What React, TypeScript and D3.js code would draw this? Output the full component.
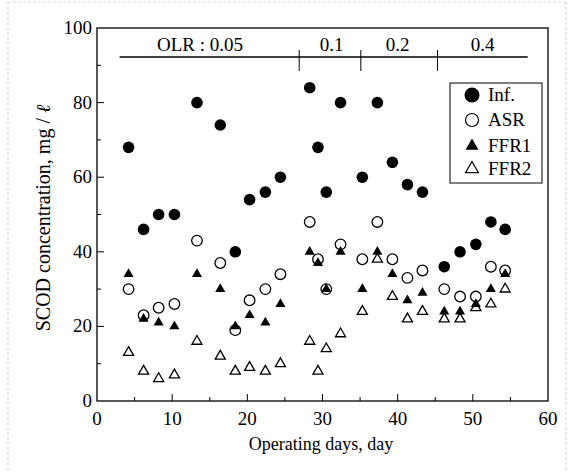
import React from "react";
import * as d3 from "d3";

const days = [4.2, 6.2, 8.2, 10.3, 13.3, 16.4, 18.4, 20.3, 22.4, 24.4, 28.3, 29.4, 30.5, 32.4, 35.3, 37.3, 39.3, 41.3, 43.3, 46.2, 48.3, 50.4, 52.4, 54.3];
const inf = [68, 46, 50, 50, 80, 74, 40, 54, 56, 60, 84, 68, 56, 80, 60, 80, 64, 58, 56, 36, 40, 42, 48, 46];
const asr = [30, 23, 25, 26, 43, 37, 19, 27, 30, 34, 48, 38, 30, 42, 38, 48, 38, 33, 35, 30, 28, 28, 36, 35];
const ffr1 = [34, 22, 21, 20, 34, 30, 20, 23, 21, 26, 40, 37, 30, 40, 30, 40, 34, 27, 29, 24, 24, 26, 30, 34];
const ffr2 = [13, 8, 6, 7, 16, 12, 8, 9, 8, 10, 16, 8, 14, 18, 24, 38, 28, 22, 24, 22, 22, 25, 26, 30];

const xTicks = [0, 10, 20, 30, 40, 50, 60];
const yTicks = [0, 20, 40, 60, 80, 100];
const olrBounds = [3, 26.9, 35.1, 45.3, 57.3];
const olrLabels = ["OLR : 0.05", "0.1", "0.2", "0.4"];
const olrLabelX = [13.7, 31.2, 40, 51.3];
const legendLabels = ["Inf.", "ASR", "FFR1", "FFR2"];

const FONT = "Liberation Serif";

function T(props: any) {
  const { children, ...rest } = props;
  return (
    <text fontFamily={FONT} style={{ fontFamily: FONT }} fontSize={19} {...rest}>
      {children}
    </text>
  );
}

export default function App() {
  const x = d3.scaleLinear().domain([0, 60]).range([97, 548]);
  const y = d3.scaleLinear().domain([0, 100]).range([401, 28]);
  const tri = d3.symbol().type(d3.symbolTriangle).size(44)();
  const triL = d3.symbol().type(d3.symbolTriangle).size(72)();
  const minorX = d3.range(5, 60, 10);
  const minorY = d3.range(10, 100, 20);
  const olrY = 57;

  return (
    <svg width={575} height={472} style={{ display: "block", position: "absolute", left: 0, top: 0, background: "#fff" }}>
      {/* scan border */}
      <line x1={8} y1={2} x2={8} y2={472} stroke="#bbb" strokeDasharray="3,2" strokeWidth={0.7} />
      <line x1={566} y1={2} x2={566} y2={472} stroke="#bbb" strokeDasharray="3,2" strokeWidth={0.7} />
      <line x1={8} y1={2} x2={566} y2={2} stroke="#ccc" strokeDasharray="3,2" strokeWidth={0.7} />

      {/* frame */}
      <rect x={x(0)} y={y(100)} width={x(60) - x(0)} height={y(0) - y(100)} fill="none" stroke="#000" strokeWidth={1.3} />

      {/* x ticks */}
      {xTicks.map((t) => (
        <g key={"xt" + t}>
          {t > 0 && t < 60 && <line x1={x(t)} x2={x(t)} y1={y(0)} y2={y(0) - 7} stroke="#000" strokeWidth={1} />}
          <T x={x(t)} y={425} textAnchor="middle">{t}</T>
        </g>
      ))}
      {minorX.map((t) => (
        <line key={"xm" + t} x1={x(t)} x2={x(t)} y1={y(0)} y2={y(0) - 4} stroke="#000" strokeWidth={1} />
      ))}
      {/* y ticks */}
      {yTicks.map((t) => (
        <g key={"yt" + t}>
          {t > 0 && t < 100 && <line x1={x(0)} x2={x(0) + 7} y1={y(t)} y2={y(t)} stroke="#000" strokeWidth={1} />}
          <T x={92} y={y(t) + 6} textAnchor="end">{t}</T>
        </g>
      ))}
      {minorY.map((t) => (
        <line key={"ym" + t} x1={x(0)} x2={x(0) + 4} y1={y(t)} y2={y(t)} stroke="#000" strokeWidth={1} />
      ))}

      {/* axis titles */}
      <T x={321} y={450} fontSize={18} textAnchor="middle">Operating days, day</T>
      <T transform={`translate(50,218) rotate(-90)`} fontSize={20} textAnchor="middle">
        SCOD concentration, mg / <tspan fontStyle="italic">ℓ</tspan>
      </T>

      {/* OLR bar */}
      <line x1={x(olrBounds[0])} x2={x(olrBounds[olrBounds.length - 1])} y1={olrY} y2={olrY} stroke="#000" strokeWidth={1.5} />
      {olrBounds.slice(1, -1).map((b) => (
        <line key={"ob" + b} x1={x(b)} x2={x(b)} y1={olrY - 7} y2={olrY + 14} stroke="#000" strokeWidth={1} />
      ))}
      {olrLabels.map((l, i) => (
        <T key={"ol" + i} x={x(olrLabelX[i])} y={olrY - 6} textAnchor="middle">{l}</T>
      ))}

      {/* data */}
      {days.map((d, i) => (
        <circle key={"inf" + i} cx={x(d)} cy={y(inf[i])} r={5.8} fill="#000" />
      ))}
      {days.map((d, i) => (
        <circle key={"asr" + i} cx={x(d)} cy={y(asr[i])} r={5.3} fill="none" stroke="#000" strokeWidth={1.3} />
      ))}
      {days.map((d, i) => (
        <path key={"f1" + i} d={tri} transform={`translate(${x(d)},${y(ffr1[i])})`} fill="#000" />
      ))}
      {days.map((d, i) => (
        <path key={"f2" + i} d={tri} transform={`translate(${x(d)},${y(ffr2[i])})`} fill="none" stroke="#000" strokeWidth={1.3} />
      ))}

      {/* legend */}
      <rect x={450} y={83} width={92} height={100} fill="#fff" stroke="#000" strokeWidth={1} />
      <circle cx={472} cy={95} r={7.5} fill="#000" />
      <circle cx={472} cy={120} r={6.5} fill="none" stroke="#000" strokeWidth={1.2} />
      <path d={triL} transform={`translate(472,146)`} fill="#000" />
      <path d={triL} transform={`translate(472,169)`} fill="none" stroke="#000" strokeWidth={1.2} />
      {legendLabels.map((l, i) => (
        <T key={"lg" + i} x={488} y={[101, 126, 152, 175][i]}>{l}</T>
      ))}
    </svg>
  );
}
